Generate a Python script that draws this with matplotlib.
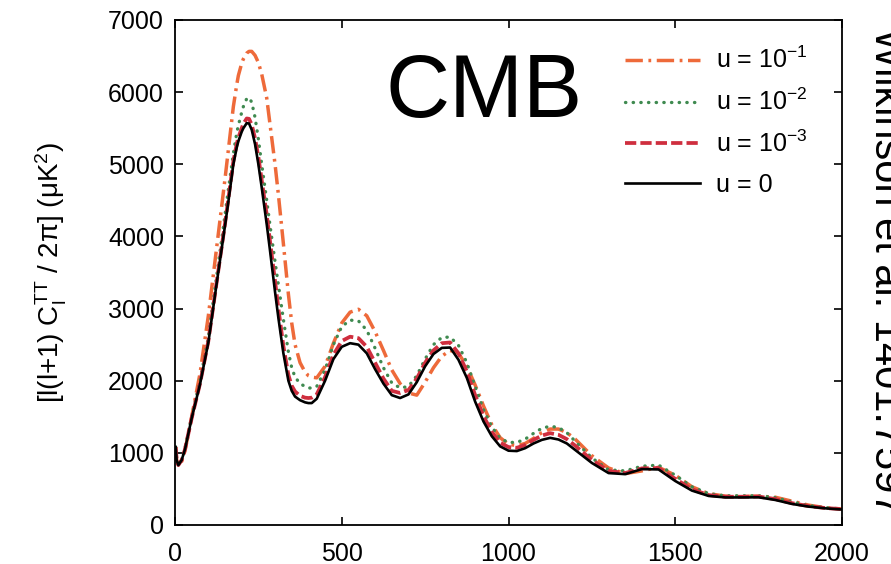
import numpy as np
import matplotlib
matplotlib.use("Agg")
import matplotlib.pyplot as plt

plt.rcParams['font.family'] = ['Liberation Sans', 'DejaVu Sans']
plt.rcParams['mathtext.fontset'] = 'custom'
plt.rcParams['mathtext.rm'] = 'Liberation Sans'
plt.rcParams['mathtext.it'] = 'Liberation Sans:italic'

# multipole l
ell = [2, 5, 10, 20, 30, 50, 75, 100, 125, 150, 160, 175, 185, 190, 200, 205,
       215, 222, 230, 240, 250, 260, 275, 285, 300, 310, 325, 340, 350, 360,
       375, 390, 400, 410, 425, 450, 475, 500, 525, 550, 575, 600, 625,
       650, 675, 700, 725, 750, 775, 800, 825, 850, 875, 900, 925, 950, 975,
       1000, 1025, 1050, 1075, 1100, 1125, 1150, 1175, 1200, 1250, 1300, 1350,
       1400, 1450, 1500, 1550, 1600, 1650, 1700, 1750, 1800, 1850, 1900, 1950,
       2000]

# u = 0
cl_u0 = [1080, 900, 830, 900, 1050, 1480, 1950, 2530, 3350, 4150, 4480, 5000,
         5230, 5320, 5450, 5500, 5570, 5565, 5480, 5280, 5000, 4680, 4170,
         3800, 3230, 2870, 2380, 2000, 1860, 1780, 1730, 1700, 1690, 1690,
         1750, 2000, 2300, 2470, 2520, 2500, 2380, 2160, 1960, 1800, 1760,
         1810, 1980, 2200, 2370, 2455, 2460, 2290, 2040, 1710, 1435, 1230,
         1090, 1030, 1025, 1065, 1130, 1180, 1208, 1185, 1130, 1040, 860, 720,
         705, 775, 770, 610, 477, 403, 382, 382, 384, 347, 292, 255, 231, 215]

# u = 1e-3
cl_u3 = [1080, 900, 830, 900, 1050, 1480, 1960, 2550, 3370, 4180, 4520, 5040,
         5280, 5370, 5500, 5560, 5635, 5630, 5550, 5360, 5100, 4780, 4300,
         3930, 3380, 3000, 2480, 2080, 1930, 1850, 1790, 1765, 1760, 1765,
         1810, 2050, 2360, 2550, 2610, 2590, 2470, 2250, 2030, 1860, 1830,
         1870, 2030, 2250, 2420, 2520, 2530, 2380, 2130, 1800, 1510, 1290,
         1140, 1080, 1070, 1110, 1180, 1240, 1273, 1250, 1190, 1100, 900, 750,
         720, 785, 790, 640, 495, 415, 392, 392, 394, 360, 303, 262, 235, 220]

# u = 1e-2
cl_u2 = [1080, 900, 830, 900, 1060, 1500, 2000, 2600, 3450, 4300, 4650, 5150,
         5430, 5540, 5720, 5800, 5910, 5925, 5860, 5650, 5350, 5000, 4500,
         4150, 3650, 3330, 2850, 2400, 2180, 2050, 1960, 1920, 1900, 1898,
         1920, 2150, 2500, 2750, 2840, 2830, 2700, 2450, 2180, 1970, 1900,
         1920, 2070, 2300, 2500, 2600, 2605, 2490, 2250, 1920, 1600, 1360,
         1200, 1145, 1145, 1190, 1270, 1340, 1370, 1350, 1280, 1160, 930, 765,
         750, 815, 830, 690, 530, 435, 405, 405, 405, 380, 320, 270, 240, 222]

# u = 1e-1
cl_u1 = [1080, 900, 830, 880, 1030, 1500, 2100, 2900, 3850, 4800, 5200, 5800,
         6100, 6230, 6400, 6460, 6540, 6565, 6565, 6510, 6410, 6250, 5920,
         5550, 5000, 4580, 3900, 3200, 2800, 2500, 2250, 2120, 2070, 2050,
         2040, 2200, 2520, 2800, 2950, 2990, 2900, 2680, 2420, 2150, 1960,
         1830, 1800, 1980, 2180, 2340, 2420, 2380, 2200, 1940, 1650, 1390,
         1210, 1120, 1100, 1130, 1200, 1280, 1330, 1330, 1280, 1190, 960, 790,
         712, 750, 800, 690, 530, 435, 400, 395, 400, 385, 330, 275, 240, 222]

labels = ['u = 10$^{\\mathrm{-1}}$', 'u = 10$^{\\mathrm{-2}}$',
          'u = 10$^{\\mathrm{-3}}$', 'u = 0']

fig = plt.figure(figsize=(8.91, 5.64), dpi=100)
ax = fig.add_axes([175/891, 1-525/564, 667/891, 505/564])

ax.plot(ell, cl_u1, color='#EE6A3A', lw=2.5, dashes=(5, 1.6, 0.8, 1.6),
        label=labels[0])
ax.plot(ell, cl_u2, color='#3F8A50', lw=2.4, dashes=(0.1, 2.2),
        dash_capstyle='round', label=labels[1])
ax.plot(ell, cl_u3, color='#CF2E3E', lw=2.7, dashes=(3, 1.1), label=labels[2])
ax.plot(ell, cl_u0, color='black', lw=1.9, label=labels[3])

ax.set_xlim(0, 2000)
ax.set_ylim(0, 7000)
ax.set_xticks([0, 500, 1000, 1500, 2000])
ax.set_yticks(np.arange(0, 7001, 1000))
ax.tick_params(direction='in', length=6, width=1.2, top=True, right=True,
               labelsize=18)
ax.tick_params(axis='x', pad=12)
ax.tick_params(axis='y', pad=8)
for s in ax.spines.values():
    s.set_linewidth(1.3)

ax.set_ylabel('[l(l+1) C$_{\\mathrm{l}}^{\\mathrm{TT}}$ / 2\u03c0] (\u03bcK$^2$)',
              fontsize=20, labelpad=28)

ax.text(386/891, 1-117/564, 'CMB', transform=fig.transFigure, fontsize=64,
        ha='left', va='baseline')

leg = ax.legend(loc='upper left', bbox_to_anchor=((625-175)/667, (525-47)/505),
                frameon=False, fontsize=18, handlelength=3.0,
                handletextpad=0.65, labelspacing=0.62, borderpad=0,
                borderaxespad=0)

# side note, cut by the right edge as in the source picture
fig.text(866/891, 1-28/564, 'Wilkinson et al. 1401.7597', rotation=-90,
         fontsize=30, ha='left', va='top')

fig.savefig('out.png', dpi=100)
